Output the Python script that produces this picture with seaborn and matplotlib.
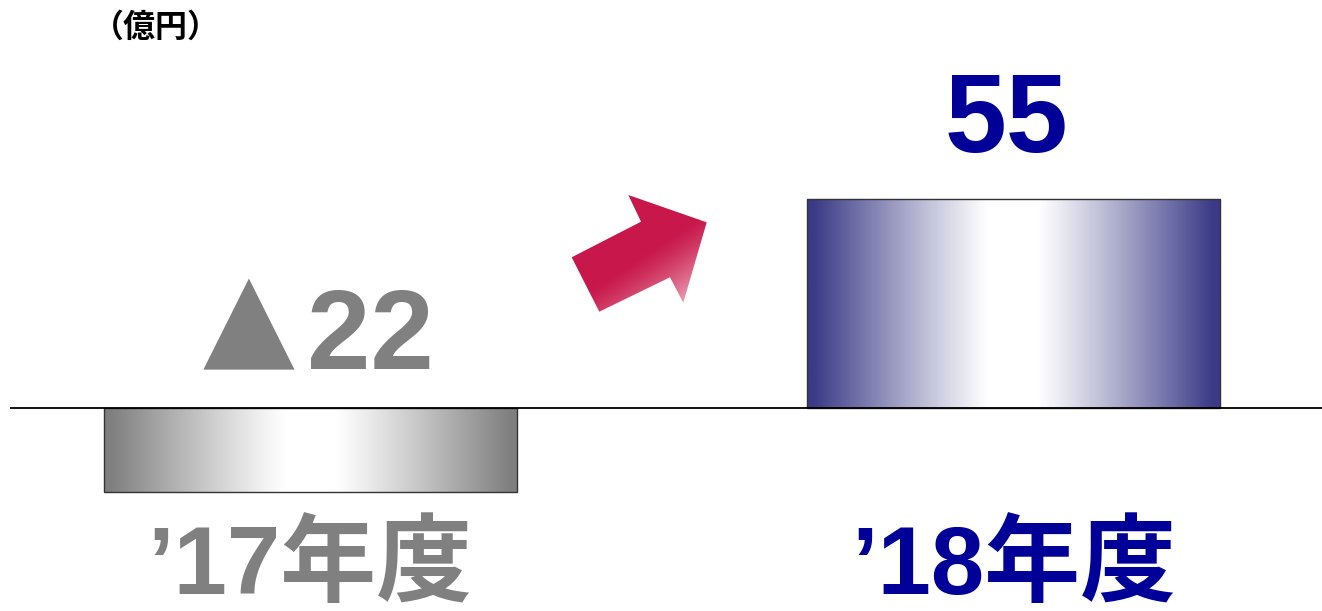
import numpy as np
import pandas as pd
import matplotlib
matplotlib.use("Agg")
import matplotlib.pyplot as plt
import seaborn as sns
from matplotlib.colors import to_rgb
from matplotlib.patches import Polygon

# ---- data ----
categories = ["’17年度", "’18年度"]
values = [-22, 55]
value_labels = ["▲22", "55"]
unit_label = "（億円）"

# ---- style ----
sns.set_theme(style="white")
plt.rcParams['font.family'] = ['Liberation Sans', 'Noto Sans CJK JP', 'DejaVu Sans']

W, H = 1322, 611
fig = plt.figure(figsize=(W / 100, H / 100), dpi=100)
ax = fig.add_axes([10 / W, 0, 1 - 10 / W, 1])

df = pd.DataFrame({"cat": categories, "val": values})
sns.barplot(data=df, x="cat", y="val", order=categories, width=0.587,
            color="white", edgecolor="#333333", linewidth=1.0, ax=ax,
            saturation=1)

ax.set_xlim(-0.427, 1.438)
ax.set_ylim(-53.4, 107.4)
ax.axis("off")
ax.axhline(0, color="black", lw=1.3, zorder=5)

edge_cols = ["#7f7f7f", "#3a3a87"]
text_cols = ["#808080", "#000099"]

xs = np.linspace(0, 1, 400)
t = np.abs(xs - 0.5) * 2
mix = np.clip((t - 0.12) / 0.85, 0, 1) ** 1.1
for patch, ec in zip(ax.patches, edge_cols):
    x0, y0 = patch.get_x(), patch.get_y()
    w, h = patch.get_width(), patch.get_height()
    c = np.array(to_rgb(ec))
    img = (1 - mix[:, None]) * np.ones(3) + mix[:, None] * c
    img = img[None, :, :]
    im = ax.imshow(img, extent=[x0, x0 + w, min(y0, y0 + h), max(y0, y0 + h)],
                   aspect="auto", zorder=patch.get_zorder() + 0.1, interpolation="bilinear")
    im.set_clip_path(patch)
    patch.set_facecolor("none")
    patch.set_zorder(patch.get_zorder() + 0.2)
ax.set_xlim(-0.427, 1.438)
ax.set_ylim(-53.4, 107.4)

# value labels: the triangle sign is drawn larger than the digits
neg_sign, neg_digits = value_labels[0][0], value_labels[0][1:]
ax.text(-0.088, 13.9, neg_sign, ha="center", va="baseline",
        fontsize=86, color=text_cols[0], family=['DejaVu Sans'])
ax.text(0.085, 10.2, neg_digits, ha="center", va="baseline",
        fontsize=82, fontweight="bold", color=text_cols[0],
        family=['Liberation Sans', 'DejaVu Sans'])
ax.text(0.99, 67.5, value_labels[1], ha="center", va="baseline",
        fontsize=80, fontweight="bold", color=text_cols[1],
        family=['Liberation Sans', 'DejaVu Sans'])

# category labels
for i, (cat, col) in enumerate(zip(categories, text_cols)):
    ax.text(i, -48.8, cat, ha="center", va="baseline", fontsize=69,
            fontweight="bold", color=col,
            family=['Liberation Sans', 'Noto Sans CJK JP'])

# unit
fig.text(156 / W, 1 - 28 / H, unit_label, ha="center", va="center",
         fontsize=23, fontweight="bold", color="black",
         family=['Noto Sans CJK JP', 'DejaVu Sans'])

# arrow (decoration) in pixel coordinates
ax2 = fig.add_axes([0, 0, 1, 1], zorder=10)
ax2.set_xlim(0, W)
ax2.set_ylim(H, 0)
ax2.axis("off")
pts = [(571.7, 257.3), (641, 221.7), (628.3, 195), (706.7, 222.3),
       (683.3, 302.7), (670, 277.3), (599.3, 311.7)]
poly = Polygon(pts, closed=True, facecolor="none", edgecolor="none")
ax2.add_patch(poly)
gx, gy = np.meshgrid(np.linspace(560, 720, 200), np.linspace(185, 320, 200))
proj = 0.55 * gx + 0.83 * gy
m = np.clip((proj - 565) / 85, 0, 1) ** 1.3
dark = np.array(to_rgb("#c8174a"))
light = np.array([0.98, 0.88, 0.90])
aimg = (1 - m[..., None]) * dark + m[..., None] * light
im2 = ax2.imshow(aimg, extent=[560, 720, 320, 185], aspect="auto",
                 interpolation="bilinear")
im2.set_clip_path(poly)
ax2.set_xlim(0, W)
ax2.set_ylim(H, 0)

fig.savefig("out.png", dpi=100)
